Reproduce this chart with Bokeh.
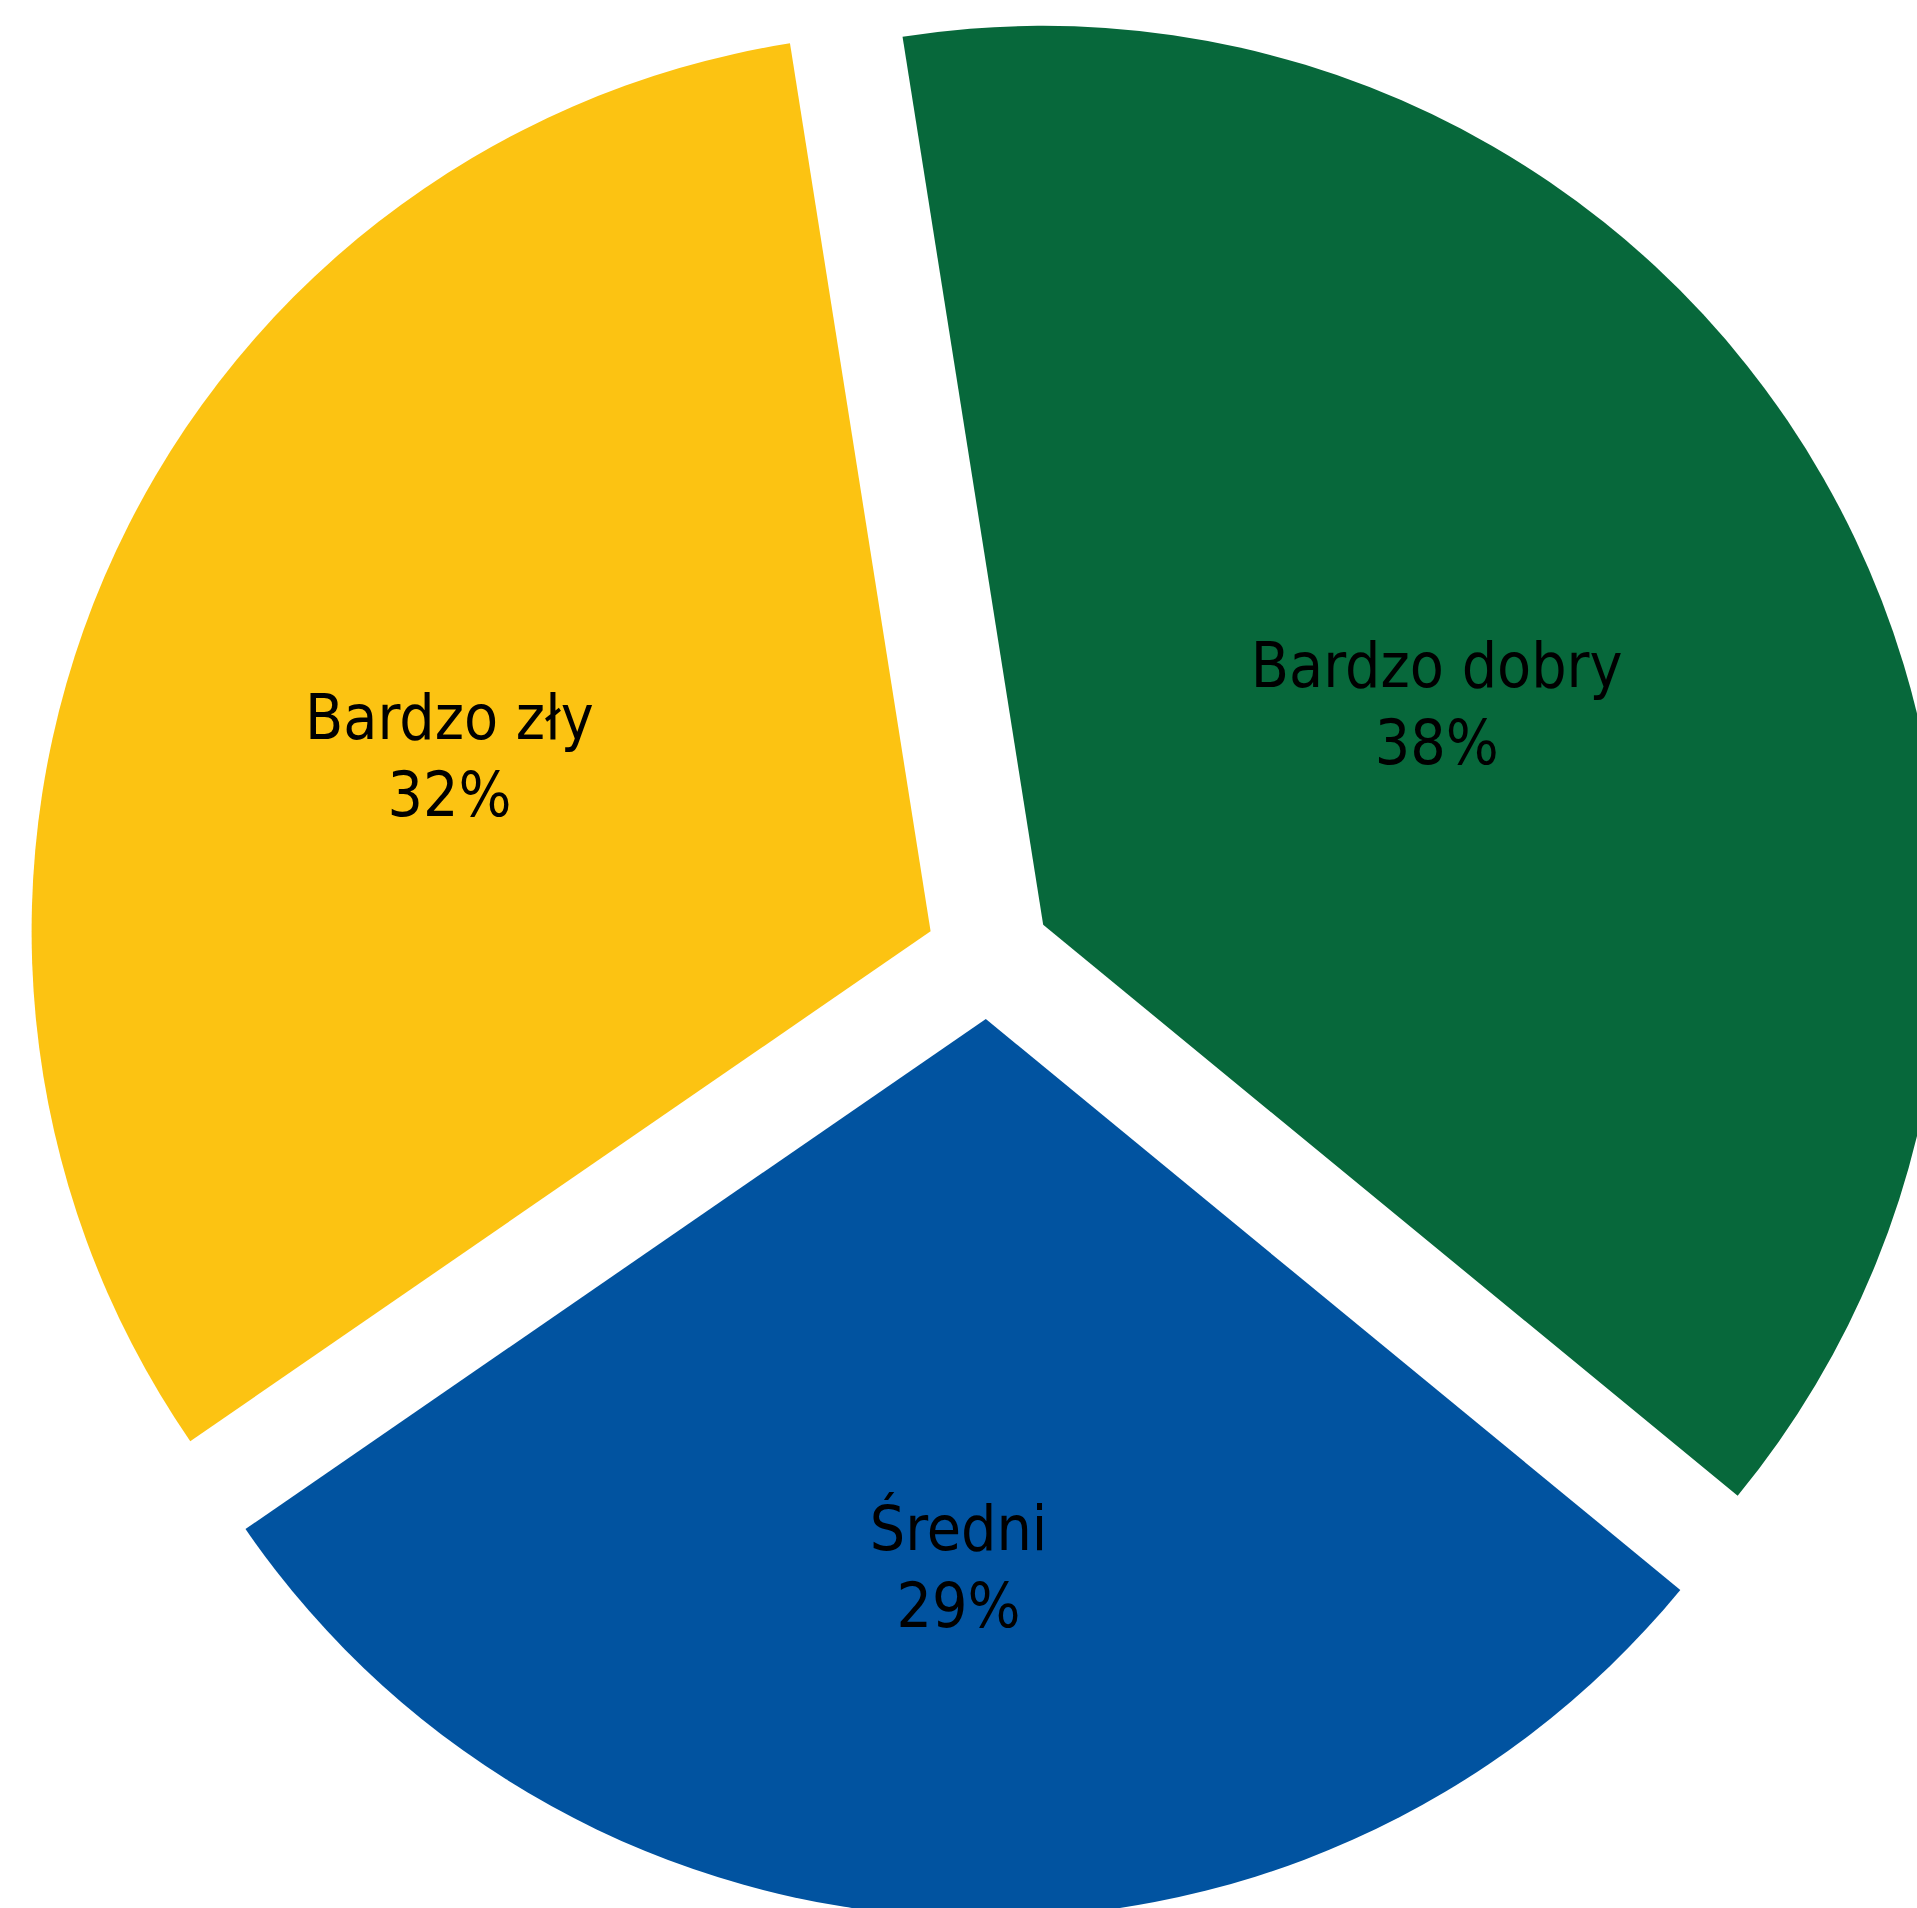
import math
from bokeh.plotting import figure
from bokeh.models import ColumnDataSource, Range1d
from bokeh.core.properties import value
from bokeh.embed import file_html
from bokeh.resources import INLINE

# ---- data ----
categories = ["Bardzo dobry", "Średni", "Bardzo zły"]
shares = [38.45, 29.45, 32.10]
pct_labels = ["38%", "29%", "32%"]

# ---- styles / layout ----
colors = ["#07683B", "#0153A0", "#FCC312"]
PAGE_W, PAGE_H = 1917, 1908
CX, CY = 988.0, 955.6        # pie centre in page pixels (y down)
RADIUS = 899.0
EXPLODE = 63.0
START_DEG = 99.0
label_polar = [(503, 27.0), (636, -92.7), (567, 161.95)]  # (distance, angle deg) from centre
LINE_GAP = 77
TEXT_LIFT = 24
FONT = "DejaVu Sans Condensed"
FONT_SIZE = "62px"

cy_data = PAGE_H - CY
total = sum(shares)

xs, ys, starts, ends = [], [], [], []
a0 = START_DEG
for s in shares:
    a1 = a0 - s / total * 360.0
    mid = math.radians((a0 + a1) / 2.0)
    xs.append(CX + EXPLODE * math.cos(mid))
    ys.append(cy_data + EXPLODE * math.sin(mid))
    starts.append(a0)
    ends.append(a1)
    a0 = a1

lx, ly_name, ly_pct = [], [], []
for d, ang in label_polar:
    a = math.radians(ang)
    x = CX + d * math.cos(a)
    y = cy_data + d * math.sin(a) + TEXT_LIFT
    lx.append(x)
    ly_name.append(y + LINE_GAP / 2)
    ly_pct.append(y - LINE_GAP / 2)

src = ColumnDataSource(dict(x=xs, y=ys, start=starts, end=ends, color=colors,
                            lx=lx, ly_name=ly_name, ly_pct=ly_pct,
                            name=categories, pct=pct_labels))

p = figure(width=PAGE_W, height=PAGE_H, output_backend="svg", toolbar_location=None,
           x_range=Range1d(0, PAGE_W), y_range=Range1d(0, PAGE_H),
           min_border=0, min_border_left=0, min_border_right=0,
           min_border_top=0, min_border_bottom=0)
p.axis.visible = False
p.grid.visible = False
p.outline_line_color = None
p.background_fill_color = "white"
p.border_fill_color = "white"

p.wedge(x="x", y="y", radius=RADIUS, start_angle="start", end_angle="end",
        start_angle_units="deg", end_angle_units="deg", direction="clock",
        fill_color="color", line_color=None, source=src)

p.text(x="lx", y="ly_name", text="name", source=src, text_align="center",
       text_baseline="alphabetic", text_font=value(FONT), text_font_size=FONT_SIZE,
       text_color="black")
p.text(x="lx", y="ly_pct", text="pct", source=src, text_align="center",
       text_baseline="alphabetic", text_font=value(FONT), text_font_size=FONT_SIZE,
       text_color="black")

open("out.html", "w").write(file_html(p, INLINE))
